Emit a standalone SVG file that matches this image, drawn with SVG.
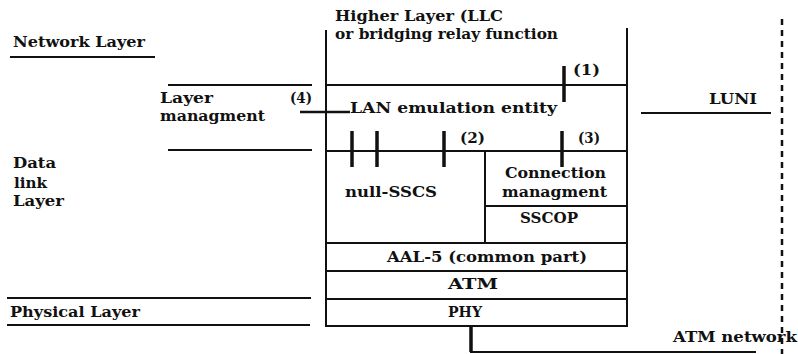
<svg xmlns="http://www.w3.org/2000/svg" width="798" height="354" viewBox="0 0 798 354">
<style>
text{font-family:"DejaVu Serif","Liberation Serif",serif;font-size:14px;font-weight:bold;fill:#111}
.ln{stroke:#111;stroke-width:2;fill:none}
.tk{stroke:#111;stroke-width:3.5;fill:none}
.dash{stroke:#111;stroke-width:2.5;stroke-dasharray:6 5;fill:none}
</style>
<rect width="798" height="354" fill="#fff"/>
<g id="layers-left">
<g id="network-layer">
<text x="13" y="47" textLength="132" lengthAdjust="spacingAndGlyphs">Network Layer</text>
<line class="ln" x1="10" y1="57" x2="155" y2="57"/>
</g>
<g id="layer-management">
<line class="ln" x1="168" y1="85" x2="312" y2="85"/>
<text x="160" y="103" textLength="53" lengthAdjust="spacingAndGlyphs">Layer</text>
<text x="160" y="121" textLength="105" lengthAdjust="spacingAndGlyphs">managment</text>
<line class="ln" x1="168" y1="150" x2="312" y2="150"/>
</g>
<g id="data-link-layer">
<text x="13" y="168" textLength="43" lengthAdjust="spacingAndGlyphs">Data</text>
<text x="14" y="188" textLength="33" lengthAdjust="spacingAndGlyphs">link</text>
<text x="13" y="206" textLength="51" lengthAdjust="spacingAndGlyphs">Layer</text>
</g>
<g id="physical-layer">
<line class="ln" x1="7" y1="298" x2="311" y2="298"/>
<text x="10" y="317" textLength="130" lengthAdjust="spacingAndGlyphs">Physical Layer</text>
<line class="ln" x1="7" y1="325" x2="310" y2="325"/>
</g>
</g>
<g id="stack">
<line class="ln" x1="326" y1="30" x2="326" y2="326"/>
<line class="ln" x1="627" y1="28" x2="627" y2="326"/>
</g>
<g id="higher-layer">
<text x="335" y="21" textLength="168" lengthAdjust="spacingAndGlyphs">Higher Layer (LLC</text>
<text x="335" y="39" textLength="223" lengthAdjust="spacingAndGlyphs">or bridging relay function</text>
<line class="ln" x1="326" y1="85" x2="627" y2="85"/>
</g>
<g id="lan-emulation-entity">
<text x="350" y="113" textLength="207" lengthAdjust="spacingAndGlyphs">LAN emulation entity</text>
<line class="ln" x1="326" y1="151" x2="627" y2="151"/>
</g>
<g id="null-sscs">
<text x="345" y="197" textLength="92" lengthAdjust="spacingAndGlyphs">null-SSCS</text>
<line class="ln" x1="485" y1="151" x2="485" y2="243"/>
</g>
<g id="connection-management">
<text x="505" y="178" textLength="101" lengthAdjust="spacingAndGlyphs">Connection</text>
<text x="502" y="197" textLength="105" lengthAdjust="spacingAndGlyphs">managment</text>
<line class="ln" x1="485" y1="206" x2="627" y2="206"/>
</g>
<g id="sscop">
<text x="520" y="223" textLength="58" lengthAdjust="spacingAndGlyphs">SSCOP</text>
<line class="ln" x1="326" y1="243" x2="627" y2="243"/>
</g>
<g id="aal5">
<text x="387" y="262" textLength="200" lengthAdjust="spacingAndGlyphs">AAL-5 (common part)</text>
<line class="ln" x1="326" y1="271" x2="627" y2="271"/>
</g>
<g id="atm">
<text x="448" y="289" textLength="50" lengthAdjust="spacingAndGlyphs">ATM</text>
<line class="ln" x1="326" y1="299" x2="627" y2="299"/>
</g>
<g id="phy">
<text x="448" y="317" textLength="34" lengthAdjust="spacingAndGlyphs">PHY</text>
<line class="ln" x1="325" y1="326" x2="628" y2="326"/>
</g>
<g id="luni">
<text x="709" y="104" textLength="48" lengthAdjust="spacingAndGlyphs">LUNI</text>
<line class="ln" x1="641" y1="113" x2="771" y2="113"/>
</g>
<g id="atm-network">
<text x="673" y="342" textLength="124" lengthAdjust="spacingAndGlyphs">ATM network</text>
</g>
<g id="connectors">
<line class="dash" x1="782" y1="19" x2="782" y2="354"/>
<line class="tk" x1="564" y1="66" x2="564" y2="102"/>
<text x="573" y="75" textLength="27" lengthAdjust="spacingAndGlyphs">(1)</text>
<line class="ln" x1="300" y1="112" x2="350" y2="112" style="stroke-width:2.5"/>
<text x="290" y="103" textLength="22" lengthAdjust="spacingAndGlyphs">(4)</text>
<line class="tk" x1="352" y1="131" x2="352" y2="167"/>
<line class="tk" x1="377" y1="131" x2="377" y2="167"/>
<line class="tk" x1="444" y1="131" x2="444" y2="167"/>
<text x="460" y="143" textLength="25" lengthAdjust="spacingAndGlyphs">(2)</text>
<line class="tk" x1="562" y1="131" x2="562" y2="167"/>
<text x="578" y="143" textLength="22" lengthAdjust="spacingAndGlyphs">(3)</text>
<polyline class="ln" points="471,326 471,352 756,352"/>
<line class="tk" x1="471" y1="326" x2="471" y2="352"/>
</g>
</svg>
